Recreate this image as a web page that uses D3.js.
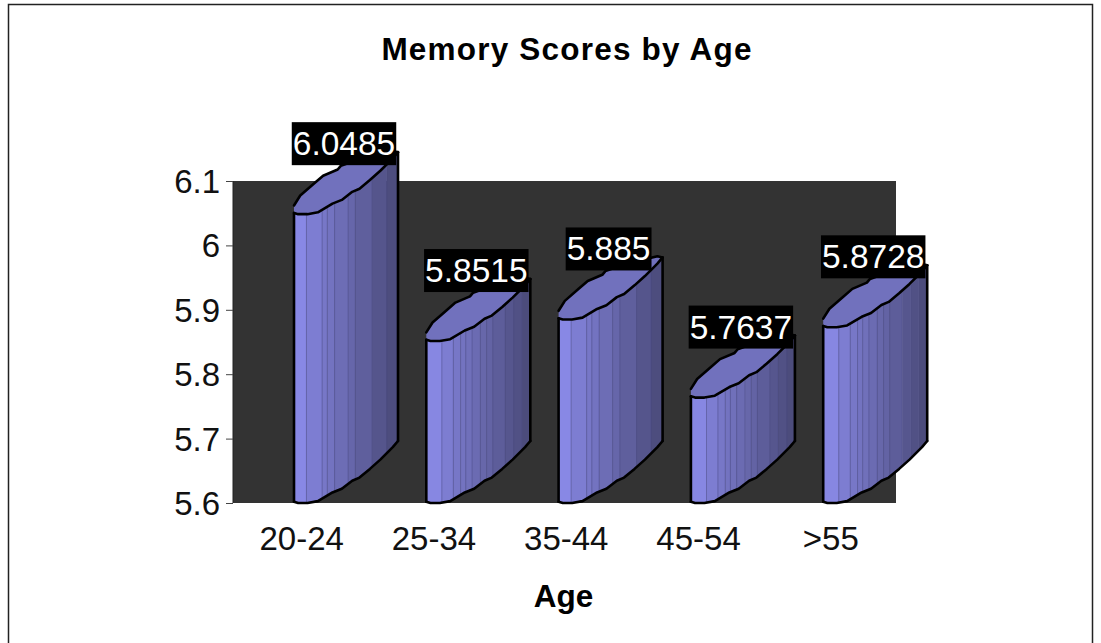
<!DOCTYPE html>
<html><head><meta charset="utf-8">
<script src="https://cdnjs.cloudflare.com/ajax/libs/d3/7.8.5/d3.min.js"></script>
<style>html,body{margin:0;padding:0;background:#fff}svg{display:block}text{font-family:"Liberation Sans",Arial,sans-serif}</style>
</head><body><svg id="c" width="1101" height="643"></svg>
<script>
const categories=["20-24","25-34","35-44","45-54",">55"];
const values=[6.0485,5.8515,5.885,5.7637,5.8728];
const labels=["6.0485","5.8515","5.885","5.7637","5.8728"];
const yTicks=[5.6,5.7,5.8,5.9,6,6.1];

const svg=d3.select("#c");
svg.append("rect").attr("x",8.5).attr("y",4.5).attr("width",1084).attr("height",650).attr("fill","#fff").attr("stroke","#222").attr("stroke-width",1.5);
const y=d3.scaleLinear().domain([5.6,6.1]).range([503,181]);
const x=d3.scaleBand().domain(categories).range([233,894.5]);
svg.append("rect").attr("x",233).attr("y",181).attr("width",663).attr("height",322).attr("fill","#333");
svg.append("line").attr("x1",233).attr("x2",233).attr("y1",181).attr("y2",503).attr("stroke","#222").attr("stroke-width",1);
const axis=d3.axisLeft(y).tickValues(yTicks).tickFormat(d=>String(d)).tickSize(7).tickPadding(6);
const ga=svg.append("g").attr("transform","translate(233,0)").call(axis);
ga.select(".domain").remove();
ga.selectAll("line").attr("stroke","#444");
ga.selectAll("text").attr("font-size",33).attr("fill","#111").attr("dy","0.35em");
svg.selectAll(".cat").data(categories).join("text").attr("class","cat")
  .attr("x",d=>x(d)+x.bandwidth()/2+2.5).attr("y",549.5).attr("text-anchor","middle").attr("font-size",33).attr("fill","#111").text(d=>d);
svg.append("text").attr("x",563.5).attr("y",607).attr("text-anchor","middle").attr("font-size",31.5).attr("font-weight","bold").attr("fill","#000").text("Age");
svg.append("text").attr("x",567).attr("y",60).attr("text-anchor","middle").attr("font-size",31.5).attr("letter-spacing",1.2).attr("font-weight","bold").attr("fill","#000").text("Memory Scores by Age");

// cylinder cross-section profile (fraction of bar width, fraction of rise)
const W=104,R=62;
const lower=[[0,.02],[.04,0],[.13,0],[.23,.03],[.37,.17],[.46,.23],[.56,.36],[.63,.41],[.73,.55],[.83,.70],[.95,.90],[1,1]];
const upper=[[0,.14],[.06,.30],[.19,.49],[.28,.62],[.42,.72],[.45,.78],[.6,.87],[.8,.96],[.95,1.02],[1,1]];
const edgesA=[0,.12,.27,.32,.39,.52,.59,.75,.89,1];
const edgesB=[0,.15,.26,.33,.38,.44,.52,.58,.64,.76,.84,.92,1];
const cols=d3.scaleLinear().domain([0,.12,.5,1]).range(["#8e8ef0","#8282da","#6a6ab0","#494978"]);
const lowerAt=d3.scaleLinear().domain(lower.map(d=>d[0])).range(lower.map(d=>d[1]));
const line=d3.line();
categories.forEach((c,i)=>{
  const L=x(c)+61, b=503, t=y(values[i]);
  const edges=i===0||i===2?edgesA:edgesB;
  const g=svg.append("g");
  d3.pairs(edges).forEach(([a,e])=>{
    g.append("polygon").attr("fill",cols((a+e)/2)).attr("stroke",cols((a+e)/2)).attr("stroke-width",.4)
     .attr("points",[[a,b],[e,b],[e,t],[a,t]].map(p=>[L+p[0]*W,p[1]-lowerAt(p[0])*R]).join(" "));
  });
  edges.slice(1,-1).forEach(e=>{
    g.append("line").attr("x1",L+e*W).attr("x2",L+e*W).attr("y1",t-lowerAt(e)*R).attr("y2",b-lowerAt(e)*R).attr("stroke","#50508a").attr("stroke-width",.7).attr("stroke-opacity",.65);
  });
  const lowT=lower.map(p=>[L+p[0]*W,t-p[1]*R]);
  const upT=upper.map(p=>[L+p[0]*W,t-p[1]*R]);
  const lowB=lower.map(p=>[L+p[0]*W,b-p[1]*R]);
  g.append("path").attr("d",line(lowT.concat(upT.slice().reverse()))+"Z").attr("fill","#7171bd");
  const st=sel=>sel.attr("fill","none").attr("stroke","#000").attr("stroke-width",2.6).attr("stroke-linejoin","round").attr("stroke-linecap","round");
  st(g.append("path").attr("d",line(lowT)));
  st(g.append("path").attr("d",line(upT)));
  st(g.append("path").attr("d",line(lowB)));
  st(g.append("path").attr("d",line([lowB[0],lowT[0]])));
  st(g.append("path").attr("d",line([lowB[lowB.length-1],lowT[lowT.length-1]])));
});
categories.forEach((c,i)=>{
  const cx=x(c)+61+50, cy=y(values[i])-71;
  const t=svg.append("text").attr("x",cx).attr("y",cy+12).attr("text-anchor","middle").attr("font-size",33.5).attr("fill","#fff").text(labels[i]);
  const w=t.node().getComputedTextLength()+2;
  svg.insert("rect",()=>t.node()).attr("x",cx-w/2).attr("y",cy-21).attr("width",w).attr("height",43).attr("fill","#000");
});
</script></body></html>
